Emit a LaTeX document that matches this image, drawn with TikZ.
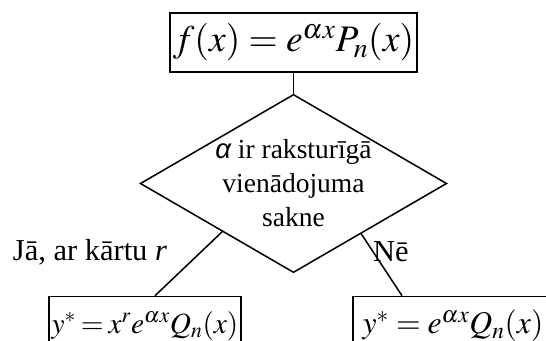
\documentclass[tikz,border=0pt]{standalone}
\usepackage{mathptmx}
\usepackage{fontspec}
\setmainfont{Liberation Serif}
\newfontfamily\alphafont{Liberation Sans}
\usetikzlibrary{shapes.geometric,positioning,calc}

\begin{document}
\begin{tikzpicture}[
    x=0.03cm, y=-0.03cm,
    formbox/.style={draw, line width=1.3pt, inner sep=0pt, minimum height=1.77cm},
    question/.style={diamond, draw, line width=1.3pt, inner sep=0pt, aspect=1.72,
        minimum width=8.85cm, minimum height=5.13cm, align=center,
        font=\fontsize{23.5}{29}\selectfont},
    answer/.style={font=\fontsize{26}{30}\selectfont}
]
\clip (0,0) rectangle (546,341);
\useasboundingbox (0,0) rectangle (546,341);

\node[formbox, minimum width=7.41cm, font=\fontsize{32}{36}\selectfont] (f) at (293.5,42.5)
    {$f(x)=e^{\alpha x}P_n(x)$};
\node[question] (dia) at (293.5,183.5)
    {{\alphafont\itshape α} ir raksturīgā\\vienādojuma\\sakne};
\node[formbox, minimum width=5.76cm, font=\fontsize{25}{30}\selectfont] (yes) at (145,326)
    {$\thickmuskip=3mu y^{*}=x^{r}e^{\alpha x}Q_n(x)$};
\node[formbox, minimum width=6cm, font=\fontsize{27}{30}\selectfont] (no) at (453,326)
    {$y^{*}=e^{\alpha x}Q_n(x)$};

\node[answer] (yeslbl) at (90,252) {Jā, ar kārtu \textit{r}};
\node[answer] (nolbl) at (391,252) {Nē};

\draw[line width=1.3pt] (f.south -| dia.north) -- (dia.north);
\draw[line width=1.3pt] ($(dia.west)!0.537!(dia.south)$) -- ([xshift=0.3cm]yes.north);
\draw[line width=1.3pt] ($(dia.south)!0.44!(dia.east)$) -- ([xshift=-1.53cm]no.north);
\end{tikzpicture}
\end{document}
